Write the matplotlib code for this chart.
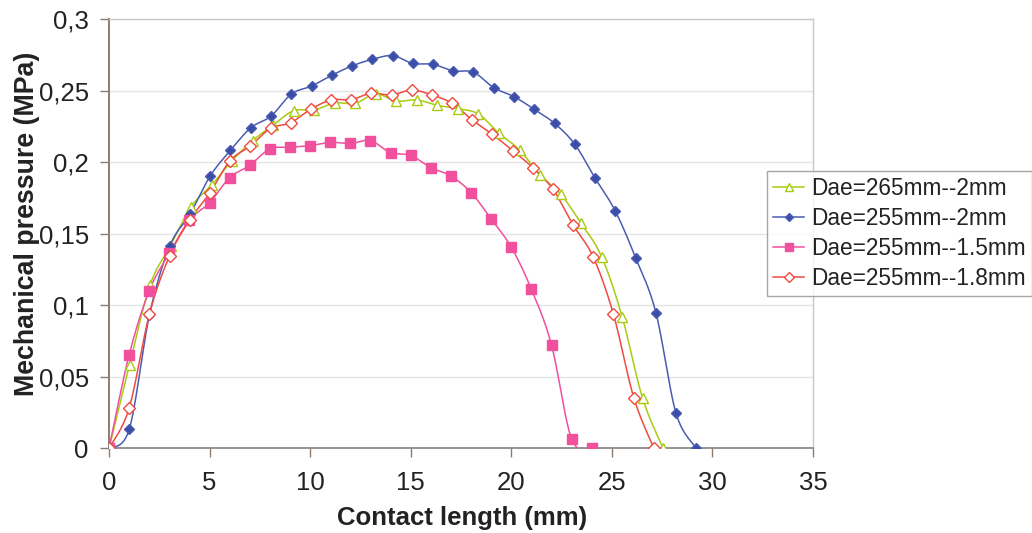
import numpy as np
import matplotlib
matplotlib.use("Agg")
import matplotlib.pyplot as plt

# Contact length (mm) and mechanical pressure (MPa) for each configuration
x_265_2 = [0, 1.02, 2.04, 3.06, 4.08, 5.10, 6.12, 7.14, 8.16, 9.18, 10.20, 11.22, 12.24, 13.26,
           14.29, 15.31, 16.33, 17.35, 18.37, 19.39, 20.41, 21.43, 22.45, 23.47, 24.49, 25.51,
           26.53, 27.55]
p_265_2 = [0, 0.0582, 0.1141, 0.1416, 0.1688, 0.1840, 0.2010, 0.2150, 0.2259, 0.2359, 0.2364,
           0.2413, 0.2411, 0.2476, 0.2427, 0.2434, 0.2397, 0.2373, 0.2336, 0.2201, 0.2085,
           0.1910, 0.1777, 0.1572, 0.1339, 0.0920, 0.0349, 0]

x_255_2 = [0, 1.01, 2.01, 3.02, 4.03, 5.03, 6.04, 7.05, 8.06, 9.06, 10.07, 11.08, 12.08, 13.09,
           14.10, 15.10, 16.11, 17.12, 18.12, 19.13, 20.14, 21.14, 22.15, 23.16, 24.17, 25.17,
           26.18, 27.19, 28.19, 29.20]
p_255_2 = [0, 0.0135, 0.0932, 0.1414, 0.1637, 0.1903, 0.2082, 0.2240, 0.2322, 0.2475, 0.2532,
           0.2607, 0.2672, 0.2718, 0.2744, 0.2690, 0.2683, 0.2637, 0.2628, 0.2520, 0.2457,
           0.2369, 0.2271, 0.2124, 0.1887, 0.1658, 0.1332, 0.0948, 0.0245, 0]

x_255_15 = [0, 1, 2, 3, 4, 5, 6, 7, 8, 9, 10, 11, 12, 13, 14, 15, 16, 17, 18, 19, 20, 21, 22,
            23, 24]
p_255_15 = [0, 0.0652, 0.1101, 0.1363, 0.1595, 0.1716, 0.1891, 0.1978, 0.2092, 0.2103, 0.2115,
            0.2138, 0.2130, 0.2150, 0.2066, 0.2047, 0.1961, 0.1903, 0.1787, 0.1602, 0.1405,
            0.1111, 0.0722, 0.0065, 0]

x_255_18 = [0, 1.00, 2.01, 3.01, 4.01, 5.02, 6.02, 7.02, 8.03, 9.03, 10.03, 11.04, 12.04, 13.04,
            14.05, 15.05, 16.05, 17.06, 18.06, 19.06, 20.07, 21.07, 22.07, 23.08, 24.08, 25.08,
            26.09, 27.09]
p_255_18 = [0, 0.0280, 0.0938, 0.1344, 0.1595, 0.1786, 0.2010, 0.2112, 0.2236, 0.2275, 0.2369,
            0.2434, 0.2437, 0.2481, 0.2469, 0.2504, 0.2469, 0.2411, 0.2294, 0.2194, 0.2080,
            0.1961, 0.1810, 0.1560, 0.1335, 0.0936, 0.0354, 0]

labels = ["Dae=265mm--2mm", "Dae=255mm--2mm", "Dae=255mm--1.5mm", "Dae=255mm--1.8mm"]
x_ticks = [0, 5, 10, 15, 20, 25, 30, 35]
y_ticks = [0, 0.05, 0.1, 0.15, 0.2, 0.25, 0.3]
y_tick_labels = ["0", "0,05", "0,1", "0,15", "0,2", "0,25", "0,3"]


def smooth(xs, ys, n=16):
    """Smoothed curve through the points (cubic Bezier, Catmull-Rom handles)."""
    p = np.column_stack([xs, ys]).astype(float)
    ext = np.vstack([p[0], p, p[-1]])
    t = np.linspace(0, 1, n, endpoint=False)[:, None]
    out = []
    for i in range(len(p) - 1):
        p0, p1, p2, p3 = ext[i], ext[i + 1], ext[i + 2], ext[i + 3]
        c1 = p1 + (p2 - p0) / 6.0
        c2 = p2 - (p3 - p1) / 6.0
        seg = ((1 - t) ** 3) * p1 + 3 * ((1 - t) ** 2) * t * c1 + 3 * (1 - t) * t ** 2 * c2 + t ** 3 * p2
        out.append(seg)
    out.append(p[-1][None, :])
    c = np.vstack(out)
    return c[:, 0], c[:, 1]


plt.rcParams["font.family"] = ["Liberation Sans", "DejaVu Sans"]

fig = plt.figure(figsize=(10.32, 5.33), dpi=100)
ax = fig.add_axes([109 / 1032, 1 - 448.3 / 533, (813 - 109) / 1032, (448.3 - 19) / 533])

series = [
    (x_265_2, p_265_2, "#a8cc10", "^", "white", 7.5),
    (x_255_2, p_255_2, "#4a5cb0", "D", "#3b4da8", 5.0),
    (x_255_15, p_255_15, "#f0509c", "s", "#f0509c", 6.5),
    (x_255_18, p_255_18, "#f04a40", "D", "white", 6.5),
]

handles = []
for (xs, ys, col, mk, mfc, ms), lab in zip(series, labels):
    sx, sy = smooth(xs, ys)
    ax.plot(sx, sy, color=col, lw=1.1, zorder=3)
    ax.plot(xs, ys, ls="none", marker=mk, ms=ms, mfc=mfc, mec=col, mew=1.0, zorder=4)
    h, = ax.plot([], [], color=col, lw=1.1, marker=mk, ms=ms * 0.8, mfc=mfc, mec=col, mew=1.0)
    handles.append(h)

ax.set_xlim(0, 35)
ax.set_ylim(0, 0.3)
ax.set_xticks(x_ticks)
ax.set_yticks(y_ticks)
ax.set_yticklabels(y_tick_labels)

ax.grid(axis="y", color="#e4e4e4", lw=1.0)
ax.set_axisbelow(True)

for side in ("top", "right"):
    ax.spines[side].set_color("#c8c8c8")
    ax.spines[side].set_linewidth(1.0)
ax.spines["left"].set_color("#8c7c70")
ax.spines["left"].set_linewidth(1.4)
ax.spines["bottom"].set_color("#808080")
ax.spines["bottom"].set_linewidth(1.2)

ax.tick_params(axis="both", direction="out", length=6.5, width=1.0, color="#8c7c70",
               labelsize=18.5, labelcolor="#222222")
ax.tick_params(axis="x", pad=10)
ax.tick_params(axis="y", pad=8)

fig.text(27 / 1032, 1 - 224 / 533, "Mechanical pressure (MPa)", rotation=90,
         ha="center", va="center", fontsize=19.3, fontweight="bold", color="#222222")
fig.text(462 / 1032, 1 - 518 / 533, "Contact length (mm)",
         ha="center", va="center", fontsize=18.5, fontweight="bold", color="#222222")

leg = fig.legend(handles, labels, loc="upper left", bbox_to_anchor=(767 / 1032, 1 - 171 / 533),
                 bbox_transform=fig.transFigure, borderaxespad=0, fontsize=16.3,
                 frameon=True, fancybox=False, edgecolor="#909090", handlelength=1.35,
                 handletextpad=0.3, labelspacing=0.3, borderpad=0.28)
leg.get_frame().set_linewidth(1.0)
for t in leg.get_texts():
    t.set_color("#222222")

fig.savefig("out.png", dpi=100, facecolor="white")
